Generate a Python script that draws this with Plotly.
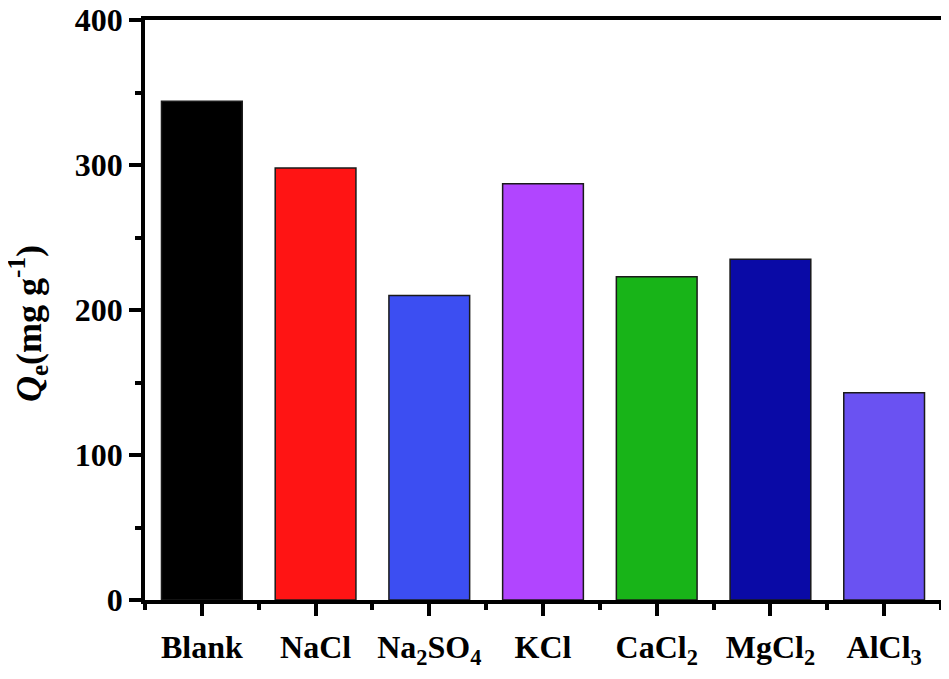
import plotly.graph_objects as go

categories = ["Blank", "NaCl", "Na<sub>2</sub>SO<sub>4</sub>", "KCl", "CaCl<sub>2</sub>", "MgCl<sub>2</sub>", "AlCl<sub>3</sub>"]
qe_values = [344, 298, 210, 287, 223, 235, 143]
bar_colors = ["#000000", "#FF1414", "#3C4EF2", "#B145FF", "#18B418", "#0A0AA6", "#6A52F2"]
y_ticks = [0, 100, 200, 300, 400]

FONT = "Liberation Serif"
x_pos = list(range(len(categories)))

fig = go.Figure()
fig.add_trace(go.Bar(
    x=x_pos, y=qe_values,
    marker=dict(color=bar_colors, line=dict(color="#1a1a1a", width=1.5)),
    width=0.71,
))

# page body has an 8px default margin, so the figure is offset by 8px
fig.update_layout(
    width=941, height=671,
    margin=dict(l=137, r=8, t=12, b=79),
    plot_bgcolor="white", paper_bgcolor="white",
    showlegend=False,
    font=dict(family=FONT, size=32, color="black"),
)
fig.update_xaxes(
    range=[-0.5, 6.5], automargin=False,
    tickmode="array", tickvals=x_pos, ticktext=[f"<b>{c}</b>" for c in categories],
    ticks="outside", ticklen=12, tickwidth=3.5, tickcolor="black",
    showline=True, linewidth=3.5, linecolor="black", mirror=True,
    showgrid=False, zeroline=False, ticklabelstandoff=4,
    ticklabeloverflow="allow",
    tickfont=dict(family=FONT, size=32, color="black"),
    minor=dict(tickmode="array", tickvals=[i - 0.5 for i in range(8)], ticks="outside",
               ticklen=6, tickwidth=3.5, tickcolor="black", showgrid=False),
)
fig.update_yaxes(
    range=[0, 400], automargin=False,
    tickmode="array", tickvals=y_ticks, ticktext=[f"<b>{v}</b>" for v in y_ticks],
    ticks="outside", ticklen=12, tickwidth=3.5, tickcolor="black",
    showline=True, linewidth=3.5, linecolor="black", mirror=True,
    showgrid=False, zeroline=False, ticklabeloverflow="allow",
    tickfont=dict(family=FONT, size=32, color="black"),
    minor=dict(tickmode="array", tickvals=[50, 150, 250, 350], ticks="outside",
               ticklen=6, tickwidth=3.5, tickcolor="black", showgrid=False),
)
fig.add_annotation(
    text="<b><i>Q</i><sub>e</sub>(mg g<sup>-1</sup>)</b>",
    xref="paper", yref="paper", x=-0.146, y=0.477,
    xanchor="center", yanchor="middle", textangle=-90, showarrow=False,
    font=dict(family=FONT, size=36, color="black"),
)

fig.write_html("out.html")
